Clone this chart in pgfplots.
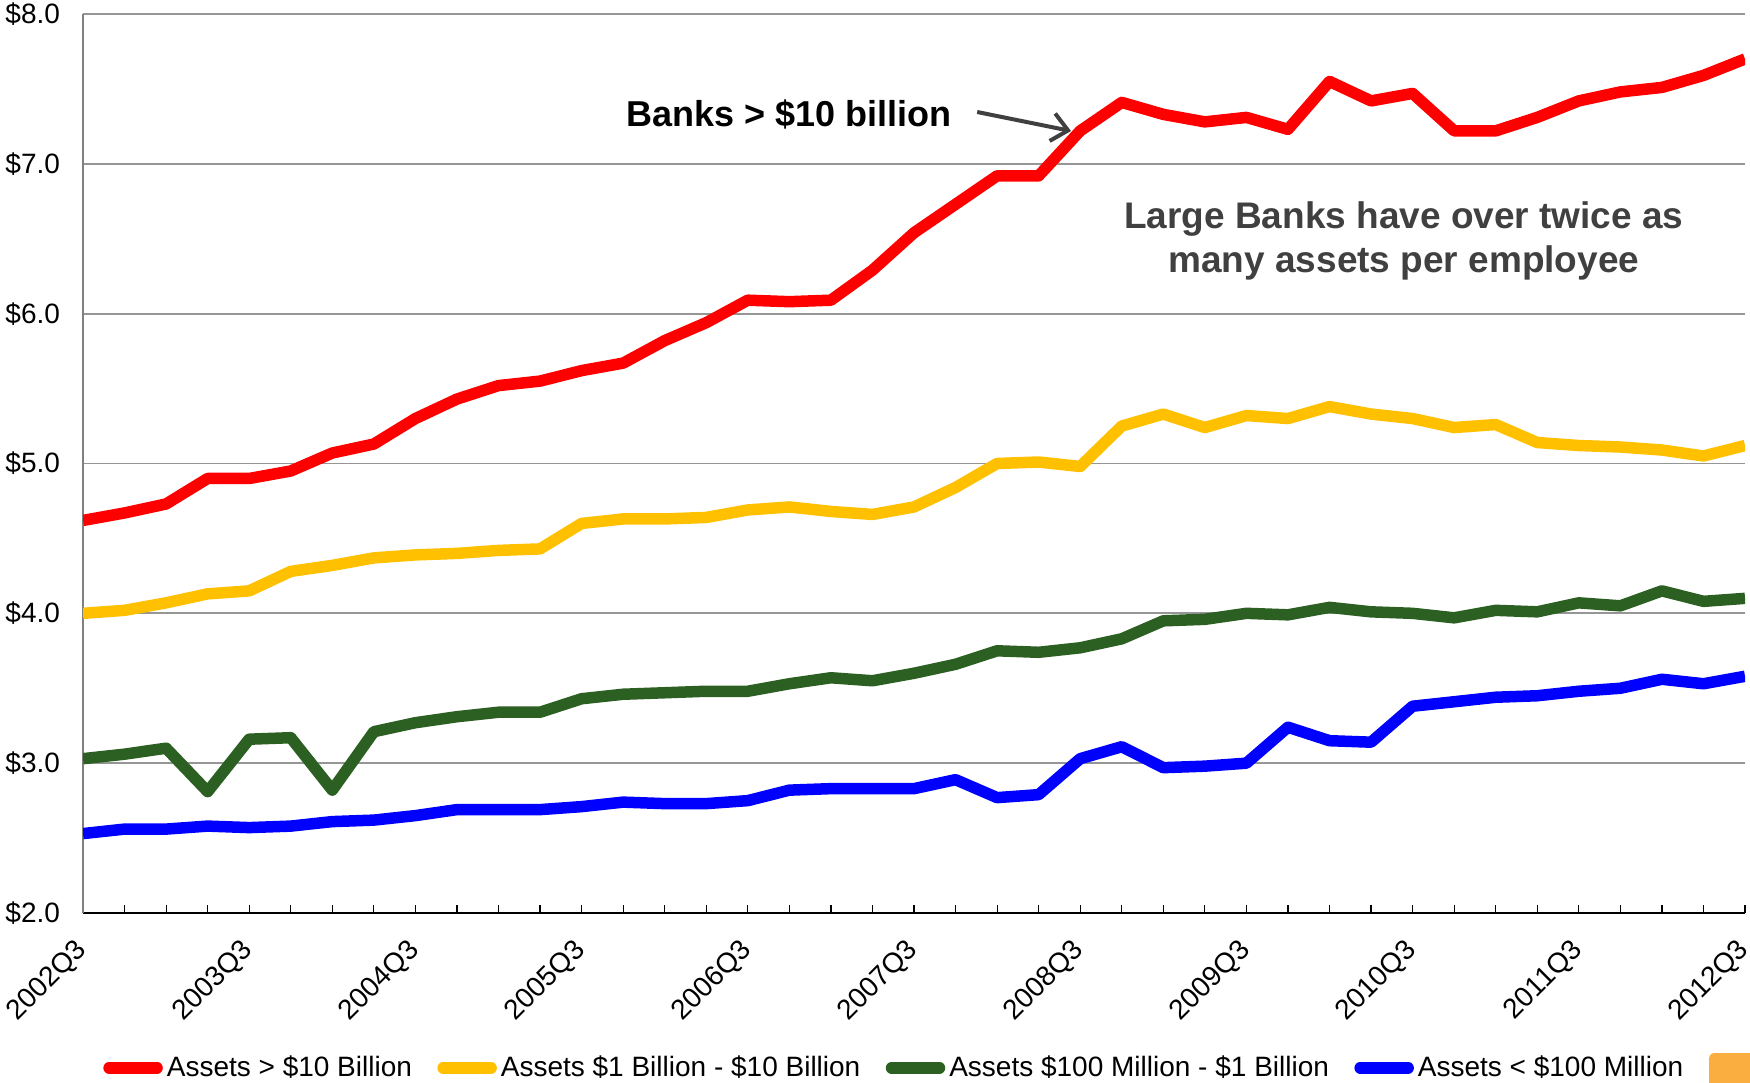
\documentclass[border=0pt]{standalone}
\usepackage{fontspec}
\setmainfont{Liberation Sans}
\usepackage{pgfplots}
\pgfplotsset{compat=1.18}
\usepackage{pgfplotstable}
\usetikzlibrary{arrows.meta}
\definecolor{cRed}{HTML}{FF0000}
\definecolor{cYellow}{HTML}{FFC000}
\definecolor{cGreen}{HTML}{2C5F22}
\definecolor{cBlue}{HTML}{0000FF}
\definecolor{gridgray}{HTML}{969696}
\definecolor{annot}{HTML}{404040}
\definecolor{orangeSq}{HTML}{F9AE3F}

\pgfplotstableread{
i red yellow green blue
0 4.62 4.00 3.03 2.53
1 4.67 4.02 3.06 2.56
2 4.73 4.07 3.10 2.56
3 4.90 4.13 2.81 2.58
4 4.90 4.15 3.16 2.57
5 4.95 4.28 3.17 2.58
6 5.07 4.32 2.82 2.61
7 5.13 4.37 3.21 2.62
8 5.30 4.39 3.27 2.65
9 5.43 4.40 3.31 2.69
10 5.52 4.42 3.34 2.69
11 5.55 4.43 3.34 2.69
12 5.62 4.60 3.43 2.71
13 5.67 4.63 3.46 2.74
14 5.82 4.63 3.47 2.73
15 5.94 4.64 3.48 2.73
16 6.09 4.69 3.48 2.75
17 6.08 4.71 3.53 2.82
18 6.09 4.68 3.57 2.83
19 6.29 4.66 3.55 2.83
20 6.54 4.71 3.60 2.83
21 6.73 4.84 3.66 2.89
22 6.92 5.00 3.75 2.77
23 6.92 5.01 3.74 2.79
24 7.22 4.98 3.77 3.03
25 7.41 5.25 3.83 3.11
26 7.33 5.33 3.95 2.97
27 7.28 5.24 3.96 2.98
28 7.31 5.32 4.00 3.00
29 7.23 5.30 3.99 3.24
30 7.55 5.38 4.04 3.15
31 7.42 5.33 4.01 3.14
32 7.47 5.30 4.00 3.38
33 7.22 5.24 3.97 3.41
34 7.22 5.26 4.02 3.44
35 7.31 5.14 4.01 3.45
36 7.42 5.12 4.07 3.48
37 7.48 5.11 4.05 3.50
38 7.51 5.09 4.15 3.56
39 7.59 5.05 4.08 3.53
40 7.70 5.12 4.10 3.58
}\datatable

\begin{document}
\begin{tikzpicture}
\begin{axis}[
  width=831pt, height=449.5pt, scale only axis,
  xmin=0, xmax=40, ymin=2, ymax=8,
  axis x line*=bottom, axis y line*=left,
  x axis line style={black, line width=0.7pt},
  y axis line style={gray, line width=0.7pt},
  xtick={0,4,...,40},
  xticklabels={2002Q3,2003Q3,2004Q3,2005Q3,2006Q3,2007Q3,2008Q3,2009Q3,2010Q3,2011Q3,2012Q3},
  minor xtick={0,...,40},
  ytick={2,...,8},
  yticklabels={\$2.0,\$3.0,\$4.0,\$5.0,\$6.0,\$7.0,\$8.0},
  ymajorgrids, grid style={color=gridgray, line width=0.85pt},
  tick align=inside,
  major tick length=4pt, minor tick length=4pt,
  xtick style={black, line width=0.6pt},
  minor x tick style={black, line width=0.6pt},
  ytick style={draw=none},
  x tick label style={anchor=east, inner sep=0pt, yshift=-16.5pt, rotate=45, font=\fontsize{14}{16}\selectfont},
  y tick label style={xshift=-8pt, font=\fontsize{14}{16}\selectfont},
  /pgf/number format/assume math mode=true,
  legend columns=-1,
  legend style={at={(rel axis cs:0.0120,-0.180)}, anchor=west, draw=none, fill=none, inner sep=0pt,
    font=\fontsize{14}{16}\selectfont,
    /tikz/every even column/.append style={column sep=10.7pt}},
  legend image code/.code={\draw[#1, line cap=round] (0pt,0pt) -- (24pt,0pt);},
  every axis plot/.append style={line width=5.75pt, line join=round},
]
\addplot[cRed] table[x=i, y=red] {\datatable};
\addlegendentry{Assets > \$10 Billion}
\addplot[cYellow] table[x=i, y=yellow] {\datatable};
\addlegendentry{Assets \$1 Billion - \$10 Billion}
\addplot[cGreen] table[x=i, y=green] {\datatable};
\addlegendentry{Assets \$100 Million - \$1 Billion}
\addplot[cBlue] table[x=i, y=blue] {\datatable};
\addlegendentry{Assets < \$100 Million}
\addlegendimage{legend image code/.code={\fill[orangeSq] (4pt,-12pt) rectangle (26pt,4.5pt);}}
\addlegendentry{}

\node[anchor=base west, font=\bfseries\fontsize{18}{20}\selectfont] at (axis cs:12.90,7.246) {Banks > \$10 billion};
\draw[-{Straight Barb[length=8pt,width=14pt]}, line width=2pt, color=annot] (axis cs:21.52,7.346) -- (axis cs:23.78,7.219);
\node[anchor=base, font=\bfseries\fontsize{18.5}{20}\selectfont, text=annot] at (axis cs:31.79,6.571) {Large Banks have over twice as};
\node[anchor=base, font=\bfseries\fontsize{18.5}{20}\selectfont, text=annot] at (axis cs:31.79,6.278) {many assets per employee};
\end{axis}
\pgfresetboundingbox
\path (-41.5pt,-84.5pt) rectangle (833.5pt,456.5pt);
\end{tikzpicture}
\end{document}
